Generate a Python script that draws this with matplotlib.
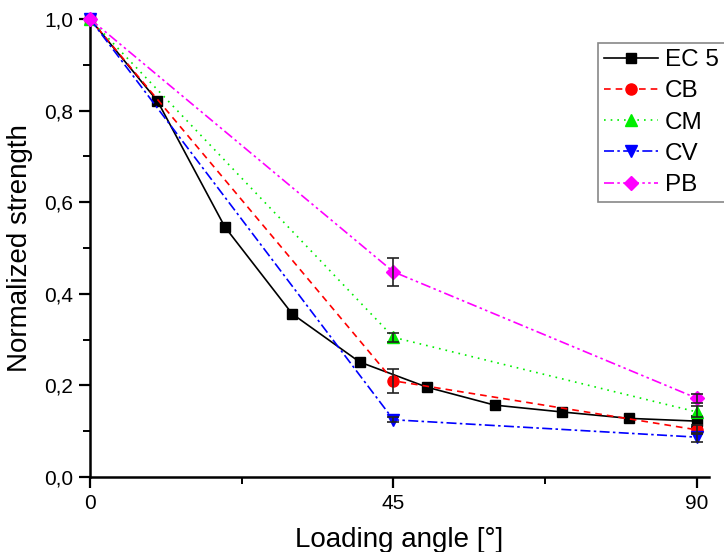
import matplotlib.pyplot as plt
from matplotlib.ticker import FuncFormatter, MultipleLocator

plt.rcParams["font.family"] = ["Liberation Sans", "DejaVu Sans"]

# EC 5 reference curve
ec5_angle = [0, 10, 20, 30, 40, 50, 60, 70, 80, 90]
ec5_value = [1.0, 0.821, 0.546, 0.356, 0.251, 0.196, 0.157, 0.142, 0.128, 0.122]

# measured series: angle 0, 45, 90
angles = [0, 45, 90]
cb_value = [1.0, 0.210, 0.103]
cb_err = [0.0, 0.026, 0.010]
cm_value = [1.0, 0.305, 0.142]
cm_err = [0.0, 0.010, 0.012]
cv_value = [1.0, 0.125, 0.087]
cv_err = [0.0, 0.006, 0.010]
pb_value = [1.0, 0.448, 0.172]
pb_err = [0.0, 0.030, 0.010]
ec5_err90 = 0.012

fig = plt.figure(figsize=(7.24, 5.52), dpi=100)
ax = fig.add_axes([90 / 724, 75 / 552, 619 / 724, 458 / 552])

ax.plot(ec5_angle, ec5_value, color="black", lw=1.2, marker="s", ms=7,
        label="EC 5", clip_on=False, zorder=5)
ax.errorbar([90], [ec5_value[-1]], yerr=[ec5_err90], fmt="none", ecolor="black",
            elinewidth=1.2, capsize=4, capthick=1.2, zorder=6)

series = [
    ("CB", cb_value, cb_err, "#ff0000", (0, (4, 3)), "o", 8),
    ("CM", cm_value, cm_err, "#00ee00", (0, (1, 3)), "^", 8),
    ("CV", cv_value, cv_err, "#0000ff", (0, (6, 2, 1.5, 2)), "v", 8),
    ("PB", pb_value, pb_err, "#ff00ff", (0, (6, 2, 1.5, 2, 1.5, 2)), "D", 7),
]
for name, vals, errs, col, ls, mk, ms in series:
    ax.plot(angles, vals, color=col, ls=ls, lw=1.2, marker=mk, ms=ms,
            markeredgecolor=col, label=name, clip_on=False, zorder=6)
    ax.errorbar(angles[1:], vals[1:], yerr=errs[1:], fmt="none", ecolor="#222222",
                elinewidth=1.2, capsize=4, capthick=1.2, zorder=7)

ax.set_xlim(0, 91.8)
ax.set_ylim(0, 1.0)
ax.xaxis.set_major_locator(MultipleLocator(45))
ax.xaxis.set_minor_locator(MultipleLocator(22.5))
ax.yaxis.set_major_locator(MultipleLocator(0.2))
ax.yaxis.set_minor_locator(MultipleLocator(0.1))
ax.yaxis.set_major_formatter(FuncFormatter(lambda v, p: f"{v:.1f}".replace(".", ",")))
ax.xaxis.set_major_formatter(FuncFormatter(lambda v, p: f"{v:g}"))

for s in ("top", "right"):
    ax.spines[s].set_visible(False)
for s in ("left", "bottom"):
    ax.spines[s].set_linewidth(1.8)
ax.tick_params(which="major", direction="out", length=8, width=1.6, labelsize=15, pad=4)
ax.tick_params(which="minor", direction="out", length=5, width=1.4)

ax.set_xlabel("Loading angle [°]", fontsize=20, labelpad=10)
ax.set_ylabel("Normalized strength", fontsize=20, labelpad=8)

leg = fig.legend(loc="upper left", bbox_to_anchor=(598 / 724, 1 - 43 / 552),
                 borderaxespad=0, fontsize=17.5, handlelength=2.2, handletextpad=0.3,
                 labelspacing=0.38, borderpad=0.25, fancybox=False, edgecolor="#888888",
                 framealpha=1)
leg.get_frame().set_linewidth(1.2)

fig.savefig("out.png", dpi=100)
